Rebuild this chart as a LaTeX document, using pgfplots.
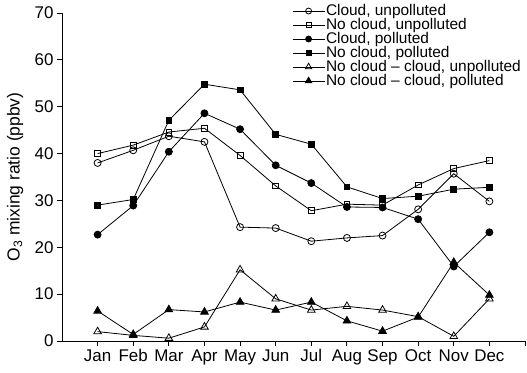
\documentclass[border=0pt]{standalone}
\usepackage{fontspec}
\setmainfont{Liberation Sans}
\usepackage{pgfplots}
\pgfplotsset{compat=1.18}

\begin{document}
\begin{tikzpicture}
\begin{axis}[
  at={(0,0)}, anchor=south west,
  width=463bp, height=328bp, scale only axis,
  xmin=0, xmax=13, ymin=0, ymax=70,
  axis lines*=left,
  axis line style={line width=0.9bp},
  xtick={1,...,13},
  xticklabels={Jan,Feb,Mar,Apr,May,Jun,Jul,Aug,Sep,Oct,Nov,Dec,},
  ytick={0,10,...,70},
  tick align=outside,
  major tick length=5bp,
  tick style={line width=0.9bp, black},
  /pgf/number format/assume math mode=true,
  tick label style={font=\fontsize{17}{20}\selectfont},
  ylabel={O\textsubscript{3} mixing ratio (ppbv)},
  every axis y label/.style={at={(axis description cs:-0.1015,0.5)},anchor=center,rotate=90,font=\fontsize{17.5}{20}\selectfont},
  every axis plot/.append style={black, line width=0.8bp, mark options={solid, line width=0.8bp}},
  % legend sample: a 32bp line with a single mark at its midpoint
  every axis plot post/.append style={legend image code/.code={
    \draw (0bp,0bp) -- (32bp,0bp);
    \draw[mark options={scale=0.85}] plot coordinates {(16bp,0bp)};}},
  legend style={at={(230bp,337bp)}, anchor=north west, draw=none, fill=none,
    font=\fontsize{15.5}{15.9}\selectfont, row sep=0.3bp,
    inner xsep=0pt, inner ysep=0pt,
    nodes={inner xsep=1bp, inner ysep=0.5bp}},
  legend cell align=left,
]
% Cloud, unpolluted
\addplot[mark=o, mark size=3.5bp] coordinates {
  (1,38.0) (2,40.7) (3,43.7) (4,42.5) (5,24.3) (6,24.1)
  (7,21.3) (8,22.0) (9,22.5) (10,28.1) (11,35.7) (12,29.8)};
\addlegendentry{Cloud, unpolluted}
% No cloud, unpolluted
\addplot[mark=square, mark size=2.9bp] coordinates {
  (1,40.0) (2,41.8) (3,44.6) (4,45.4) (5,39.6) (6,33.1)
  (7,27.8) (8,29.2) (9,29.0) (10,33.3) (11,36.8) (12,38.5)};
\addlegendentry{No cloud, unpolluted}
% Cloud, polluted
\addplot[mark=*, mark size=3.5bp] coordinates {
  (1,22.7) (2,28.9) (3,40.4) (4,48.6) (5,45.2) (6,37.5)
  (7,33.7) (8,28.6) (9,28.5) (10,26.0) (11,15.9) (12,23.2)};
\addlegendentry{Cloud, polluted}
% No cloud, polluted
\addplot[mark=square*, mark size=2.9bp] coordinates {
  (1,29.0) (2,30.2) (3,47.1) (4,54.8) (5,53.6) (6,44.1)
  (7,42.0) (8,32.9) (9,30.4) (10,30.9) (11,32.4) (12,32.8)};
\addlegendentry{No cloud, polluted}
% No cloud - cloud, unpolluted
\addplot[mark=triangle, mark size=4.4bp] coordinates {
  (1,2.0) (2,1.2) (3,0.6) (4,3.0) (5,15.2) (6,9.0)
  (7,6.6) (8,7.4) (9,6.6) (10,5.2) (11,1.0) (12,9.0)};
\addlegendentry{No cloud -- cloud, unpolluted}
% No cloud - cloud, polluted
\addplot[mark=triangle*, mark size=4.4bp] coordinates {
  (1,6.4) (2,1.4) (3,6.7) (4,6.2) (5,8.3) (6,6.6)
  (7,8.3) (8,4.3) (9,2.1) (10,5.1) (11,16.8) (12,9.8)};
\addlegendentry{No cloud -- cloud, polluted}
\end{axis}
\pgfresetboundingbox
\path (-62bp,-32bp) rectangle (465bp,341bp);
\end{tikzpicture}
\end{document}
